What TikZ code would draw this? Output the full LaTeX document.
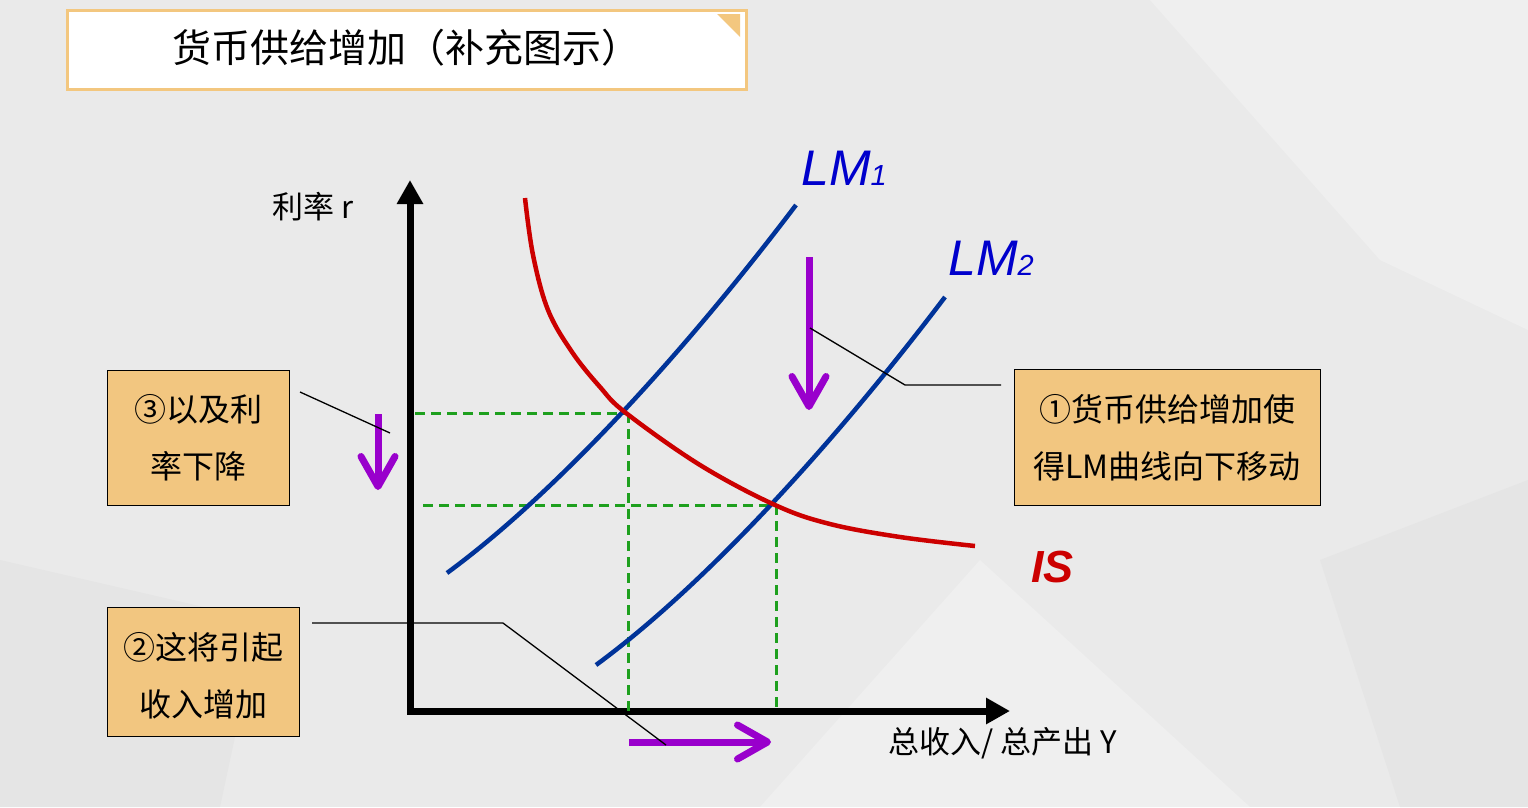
\documentclass[tikz,border=0pt]{standalone}
\usepackage{fontspec}
\setmainfont{Noto Sans CJK SC}
\newfontfamily\arialf{Liberation Sans}
\usetikzlibrary{arrows.meta}
\definecolor{bg}{RGB}{234,234,234}
\definecolor{bglight}{RGB}{239,239,239}
\definecolor{bgdark}{RGB}{229,229,229}
\definecolor{titleor}{RGB}{243,199,127}
\definecolor{boxor}{RGB}{242,198,128}
\definecolor{lmblue}{RGB}{0,51,153}
\definecolor{lablue}{RGB}{0,0,204}
\definecolor{isred}{RGB}{204,0,0}
\definecolor{gdash}{RGB}{30,160,30}
\definecolor{purp}{RGB}{153,0,204}
\tikzset{
  curveLM/.style={draw=lmblue, line width=4.5pt},
  curveIS/.style={draw=isred, line width=4.5pt},
  gline/.style={draw=gdash, line width=3pt, dash pattern=on 10pt off 6pt},
  parrow/.style={draw=purp, line width=7pt, -{Straight Barb[length=30pt,width=34pt,round]}},
  callout/.style={draw=black, line width=1.3pt},
  notebox/.style={draw=black, line width=1pt, fill=boxor, anchor=north west, inner sep=0pt},
  notetext/.style={align=center, font=\fontsize{32}{57}\selectfont, inner sep=0pt},
  axislbl/.style={font=\fontsize{31}{31}\selectfont, inner sep=0pt},
}
\begin{document}
\begin{tikzpicture}[x=1pt,y=-1pt]
\useasboundingbox (0,0) rectangle (1528,807);
\fill[bg] (0,0) rectangle (1528,807);
% subtle faceted background
\fill[bglight] (1150,0) -- (1528,0) -- (1528,330) -- (1380,260) -- cycle;
\fill[bgdark] (0,560) -- (260,620) -- (220,807) -- (0,807) -- cycle;
\fill[bglight] (760,807) -- (980,560) -- (1250,807) -- cycle;
\fill[bgdark] (1320,560) -- (1528,480) -- (1528,807) -- (1400,807) -- cycle;

% title
\node[draw=titleor, line width=3pt, fill=white, anchor=north west, minimum width=679pt, minimum height=79pt, inner sep=0pt] (titlebox) at (66,9) {};
\fill[titleor] (717,14) -- (740,14) -- (740,37) -- cycle;
\node[font=\fontsize{39}{39}\selectfont, inner sep=0pt] (title) at (406,48) {货币供给增加（补充图示）};

% axes
\coordinate (ytip) at (410,180);
\coordinate (O) at (410,711);
\coordinate (xtip) at (1010,711);
\draw[line width=7pt, line join=miter, {Triangle[length=24pt,width=25pt]}-{Triangle[length=24pt,width=25pt]}] (ytip) -- (O) -- (xtip);
\node[axislbl, anchor=west] (rlabel) at (272,207) {利率 r};
\node[axislbl, anchor=west] (ylabel) at (888,743) {总收入/ 总产出 Y};

% equilibrium points
\coordinate (E1) at (626,413);
\coordinate (E2) at (775,505);

% green dashed guides
\coordinate (E1y) at (415,413);
\coordinate (E2y) at (423,505);
\coordinate (E1x) at (628,711);
\coordinate (E2x) at (776,711);
\draw[gline] (E1y) -- (E1);
\draw[gline] (E1) ++(2,0) -- (E1x);
\draw[gline] (E2y) -- (E2);
\draw[gline] (E2) ++(1,0) -- (E2x);

% curves
\coordinate (lm1a) at (447,573);
\coordinate (lm1b) at (796,205);
\coordinate (lm2a) at (596,665);
\coordinate (lm2b) at (945,297);
\draw[curveLM] (lm1a) .. controls (560,490) and (690,345) .. (lm1b);
\draw[curveLM] (lm2a) .. controls (709,582) and (839,437) .. (lm2b);
\draw[curveIS] plot[smooth, tension=0.6] coordinates {(525,198) (533,255) (548,310) (572,352) (600,387) (626,413) (700,465) (775,505) (830,524) (900,537) (975,546)};

% curve labels
\node[anchor=base west, inner sep=0pt, text=lablue] (lm1) at (801,185) {\arialf\itshape\fontsize{50}{50}\selectfont LM\fontsize{29}{29}\selectfont 1};
\node[anchor=base west, inner sep=0pt, text=lablue] (lm2) at (948,275) {\arialf\itshape\fontsize{50}{50}\selectfont LM\fontsize{29}{29}\selectfont 2};
\node[anchor=base west, inner sep=0pt, text=isred] (is) at (1031,582) {\arialf\bfseries\itshape\fontsize{45}{45}\selectfont IS};

% purple arrows
\coordinate (a1s) at (809,257);
\coordinate (a1e) at (809,410);
\coordinate (a3s) at (378,414);
\coordinate (a3e) at (378,490);
\coordinate (a2s) at (629,742);
\coordinate (a2e) at (771,742);
\draw[parrow] (a1s) -- (a1e);
\draw[parrow] (a3s) -- (a3e);
\draw[parrow] (a2s) -- (a2e);

% note boxes
\node[notebox, minimum width=182pt, minimum height=135pt] (box3) at (107,370) {};
\node[notetext] (t3) at (198,438) {③以及利\\率下降};
\node[notebox, minimum width=192pt, minimum height=129pt] (box2) at (107,607) {};
\node[notetext] (t2) at (203,676) {②这将引起\\收入增加};
\node[notebox, minimum width=306pt, minimum height=136pt] (box1) at (1014,369) {};
\node[notetext] (t1) at (1167,438) {①货币供给增加使\\得LM曲线向下移动};

% callout lines
\coordinate (c3a) at (300,392);
\coordinate (c3b) at (390,433);
\draw[callout] (c3a) -- (c3b);
\coordinate (c2a) at (312,623);
\coordinate (c2b) at (503,623);
\coordinate (c2c) at (666,745);
\draw[callout] (c2a) -- (c2b) -- (c2c);
\coordinate (c1a) at (1001,385);
\coordinate (c1b) at (905,385);
\coordinate (c1c) at (810,328);
\draw[callout] (c1a) -- (c1b) -- (c1c);
\end{tikzpicture}
\end{document}
